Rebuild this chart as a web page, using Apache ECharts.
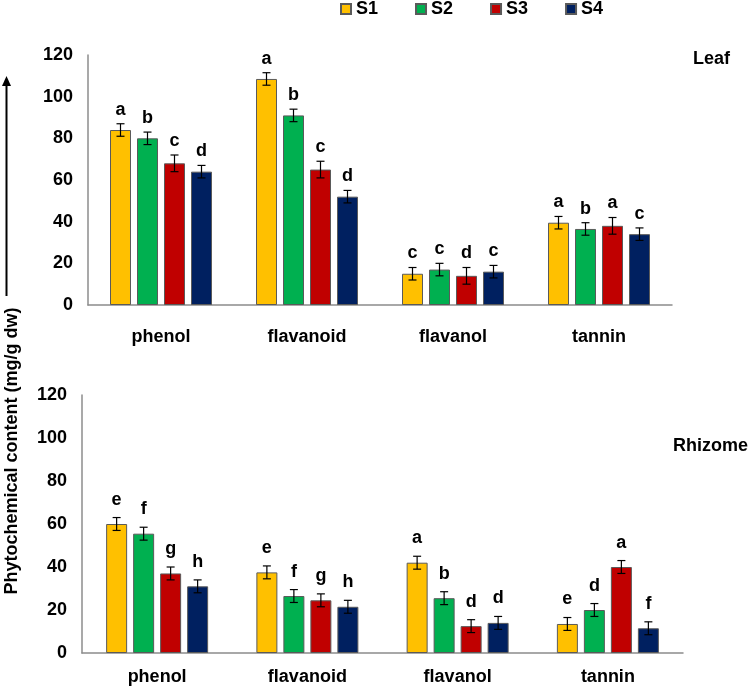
<!DOCTYPE html>
<html>
<head>
<meta charset="utf-8">
<script src="https://cdn.jsdelivr.net/npm/echarts@6/dist/echarts.min.js"></script>
<style>
  html, body { margin: 0; padding: 0; background: #fff; }
  #chart { width: 749px; height: 690px; }
</style>
</head>
<body>
<div id="chart"></div>
<script>
// 类别和系列
const categories = ['phenol', 'flavanoid', 'flavanol', 'tannin'];
const seriesNames = ['S1', 'S2', 'S3', 'S4'];
const colors = ['#FFC000', '#00B050', '#C00000', '#002060'];
const yTicks = [0, 20, 40, 60, 80, 100, 120];

// Leaf 数据
const leafS1 = [84, 108.5, 15, 39.5];
const leafS2 = [80, 91, 17, 36.5];
const leafS3 = [68, 65, 14, 38];
const leafS4 = [64, 52, 16, 34];
const leafErrS1 = [3, 3, 3, 3];
const leafErrS2 = [3, 3, 3, 3];
const leafErrS3 = [4, 4, 4, 4];
const leafErrS4 = [3, 3, 3, 3];
const leafLetS1 = ['a', 'a', 'c', 'a'];
const leafLetS2 = ['b', 'b', 'c', 'b'];
const leafLetS3 = ['c', 'c', 'd', 'a'];
const leafLetS4 = ['d', 'd', 'c', 'c'];

// Rhizome 数据
const rhiS1 = [60, 37.5, 42, 13.5];
const rhiS2 = [55.5, 26.5, 25.5, 20];
const rhiS3 = [37, 24.5, 12.5, 40];
const rhiS4 = [31, 21.5, 14, 11.5];
const rhiErrS1 = [3, 3, 3, 3];
const rhiErrS2 = [3, 3, 3, 3];
const rhiErrS3 = [3, 3, 3, 3];
const rhiErrS4 = [3, 3, 3, 3];
const rhiLetS1 = ['e', 'e', 'a', 'e'];
const rhiLetS2 = ['f', 'f', 'b', 'd'];
const rhiLetS3 = ['g', 'g', 'd', 'a'];
const rhiLetS4 = ['h', 'h', 'd', 'f'];

const FONT = 'Liberation Sans, Arial, sans-serif';
const FS = 18;
const BAR_W = 21;
const BAR_GAP = 6;

const chart = echarts.init(document.getElementById('chart'));

// 误差线 + 字母标注
function errSeries(name, gridIdx, vals, errs, lets, labelGap) {
  const data = [];
  const letters = [];
  vals.forEach((arr, s) => {
    arr.forEach((v, c) => {
      data.push([c, s, v, errs[s][c]]);
      letters.push(lets[s][c]);
    });
  });
  return {
    name: name,
    type: 'custom',
    xAxisIndex: gridIdx,
    yAxisIndex: gridIdx,
    z: 10,
    encode: { x: 0, y: 2 },
    data: data,
    renderItem: function (params, api) {
      const c = api.value(0), s = api.value(1), v = api.value(2), e = api.value(3);
      const mid = api.coord([c, v]);
      const x = mid[0] + (s - 1.5) * (BAR_W + BAR_GAP);
      const top = api.coord([c, v + e])[1];
      const bot = api.coord([c, v - e])[1];
      const ls = { stroke: '#000', lineWidth: 1.2 };
      return {
        type: 'group',
        children: [
          { type: 'line', shape: { x1: x, y1: top, x2: x, y2: bot }, style: ls },
          { type: 'line', shape: { x1: x - 4, y1: top, x2: x + 4, y2: top }, style: ls },
          { type: 'line', shape: { x1: x - 4, y1: bot, x2: x + 4, y2: bot }, style: ls },
          {
            type: 'text', x: x, y: top - labelGap,
            style: {
              text: letters[params.dataIndex], fill: '#000',
              fontSize: FS, fontWeight: 'bold', fontFamily: FONT,
              align: 'center', verticalAlign: 'bottom'
            }
          }
        ]
      };
    }
  };
}

function barSeries(gridIdx, vals) {
  return vals.map((arr, s) => ({
    name: seriesNames[s],
    type: 'bar',
    xAxisIndex: gridIdx,
    yAxisIndex: gridIdx,
    barWidth: BAR_W,
    barGap: (BAR_GAP / BAR_W * 100) + '%',
    itemStyle: { color: colors[s], borderColor: '#5a5a5a', borderWidth: 1 },
    data: arr
  }));
}

function xAxis(gridIdx, margin) {
  return {
    type: 'category',
    gridIndex: gridIdx,
    data: categories,
    axisLine: { lineStyle: { color: '#8c8c8c', width: 1.5 } },
    axisTick: { show: false },
    axisLabel: { color: '#000', fontSize: FS, fontWeight: 'bold', fontFamily: FONT, margin: margin }
  };
}

function yAxis(gridIdx) {
  return {
    type: 'value',
    gridIndex: gridIdx,
    min: yTicks[0],
    max: yTicks[yTicks.length - 1],
    interval: yTicks[1] - yTicks[0],
    axisLine: { show: true, lineStyle: { color: '#8c8c8c', width: 1.5 } },
    axisTick: { show: false },
    splitLine: { show: false },
    axisLabel: { color: '#000', fontSize: FS, fontWeight: 'bold', fontFamily: FONT, margin: 15 }
  };
}

const leafVals = [leafS1, leafS2, leafS3, leafS4];
const rhiVals = [rhiS1, rhiS2, rhiS3, rhiS4];

const option = {
  backgroundColor: '#fff',
  animation: false,
  legend: {
    data: seriesNames,
    left: 335,
    top: -5,
    itemWidth: 10,
    itemHeight: 10,
    itemGap: 37,
    icon: 'rect',
    textStyle: { color: '#000', fontSize: FS, fontWeight: 'bold', fontFamily: FONT }
  },
  grid: [
    { left: 88, top: 55, width: 584, height: 250 },
    { left: 82, top: 395, width: 601, height: 258 }
  ],
  xAxis: [xAxis(0, 23), xAxis(1, 15)],
  yAxis: [yAxis(0), yAxis(1)],
  graphic: [
    { type: 'text', left: 693, top: 50, style: { text: 'Leaf', fill: '#000', fontSize: FS, fontWeight: 'bold', fontFamily: FONT } },
    { type: 'text', left: 673, top: 437, style: { text: 'Rhizome', fill: '#000', fontSize: FS, fontWeight: 'bold', fontFamily: FONT } },
    {
      type: 'text', x: 12, y: 451, rotation: Math.PI / 2,
      style: {
        text: 'Phytochemical content (mg/g dw)', fill: '#000',
        fontSize: FS, fontWeight: 'bold', fontFamily: FONT,
        align: 'center', verticalAlign: 'middle'
      }
    },
    { type: 'line', shape: { x1: 6.5, y1: 296, x2: 6.5, y2: 84 }, style: { stroke: '#000', lineWidth: 2 } },
    { type: 'polygon', shape: { points: [[6.5, 76], [2, 86], [11, 86]] }, style: { fill: '#000' } }
  ],
  series: [
    ...barSeries(0, leafVals),
    ...barSeries(1, rhiVals),
    errSeries('errLeaf', 0, leafVals, [leafErrS1, leafErrS2, leafErrS3, leafErrS4],
      [leafLetS1, leafLetS2, leafLetS3, leafLetS4], 5),
    errSeries('errRhi', 1, rhiVals, [rhiErrS1, rhiErrS2, rhiErrS3, rhiErrS4],
      [rhiLetS1, rhiLetS2, rhiLetS3, rhiLetS4], 9)
  ]
};

chart.setOption(option);
window.addEventListener('resize', () => chart.resize());
</script>
</body>
</html>
